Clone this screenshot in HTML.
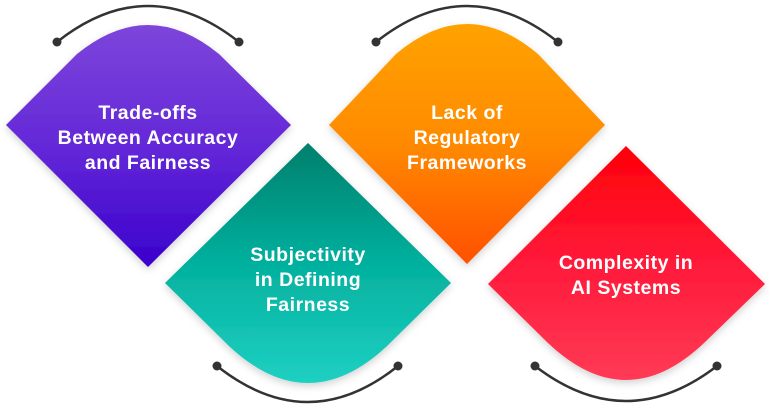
<!DOCTYPE html>
<html><head><style>
html,body{margin:0;padding:0;background:#fff;}
svg{display:block;}
text{font-family:"Liberation Sans",Arial,sans-serif;font-weight:bold;font-size:19.5px;letter-spacing:0.5px;fill:#fff;text-anchor:middle;}
</style></head><body>
<svg width="774" height="409" viewBox="0 0 774 409" xmlns="http://www.w3.org/2000/svg">
<defs>
<linearGradient id="gp" x1="0" y1="0" x2="0" y2="1"><stop offset="0" stop-color="#7d45da"/><stop offset="0.5" stop-color="#6428d8"/><stop offset="1" stop-color="#3a00cc"/></linearGradient>
<linearGradient id="go" x1="0" y1="0" x2="0" y2="1"><stop offset="0" stop-color="#ffa200"/><stop offset="0.5" stop-color="#ff8a00"/><stop offset="1" stop-color="#ff5000"/></linearGradient>
<linearGradient id="gt" x1="0" y1="0" x2="0" y2="1"><stop offset="0" stop-color="#00806c"/><stop offset="0.5" stop-color="#03b09e"/><stop offset="1" stop-color="#1ed0c2"/></linearGradient>
<linearGradient id="gr" x1="0" y1="0" x2="0" y2="1"><stop offset="0" stop-color="#ff0008"/><stop offset="0.5" stop-color="#ff1a3a"/><stop offset="1" stop-color="#ff3a55"/></linearGradient>
<filter id="sh" x="-10%" y="-10%" width="120%" height="130%"><feDropShadow dx="0" dy="3" stdDeviation="4" flood-color="#000" flood-opacity="0.18"/></filter>
</defs>
<g fill="none" stroke="#333" stroke-width="2.5">
<path d="M57,42 Q148,-30 239,42"/>
<path d="M376,42 Q467,-30 558,42"/>
<path d="M217,366 Q308,438 398,366"/>
<path d="M535,366 Q626,436 717,366"/>
</g>
<g fill="#333">
<circle cx="57" cy="42" r="4.5"/><circle cx="239" cy="42" r="4.5"/>
<circle cx="376" cy="42" r="4.5"/><circle cx="558" cy="42" r="4.5"/>
<circle cx="217" cy="366" r="4.5"/><circle cx="398" cy="366" r="4.5"/>
<circle cx="535" cy="366" r="4.5"/><circle cx="717" cy="366" r="4.5"/>
</g>
<path filter="url(#sh)" fill="url(#gp)" d="M6,125 L77,54 Q148,-4 219,54 L291,125 L148,267 Z"/>
<path filter="url(#sh)" fill="url(#go)" d="M329,125 L396,54 Q467,-6 538,54 L605,125 L467,264 Z"/>
<path filter="url(#sh)" fill="url(#gt)" d="M308,143 L451,283 L386,347 Q308,419 230,347 L165,283 Z"/>
<path filter="url(#sh)" fill="url(#gr)" d="M626,146 L765,284 L704,343 Q626,417 548,343 L488,284 Z"/>
<text x="148" y="119">Trade-offs</text>
<text x="148" y="144">Between Accuracy</text>
<text x="148" y="169">and Fairness</text>
<text x="467" y="119">Lack of</text>
<text x="467" y="144">Regulatory</text>
<text x="467" y="169">Frameworks</text>
<text x="308" y="261">Subjectivity</text>
<text x="308" y="286">in Defining</text>
<text x="308" y="311">Fairness</text>
<text x="626" y="269">Complexity in</text>
<text x="626" y="294">AI Systems</text>
</svg>
</body></html>
